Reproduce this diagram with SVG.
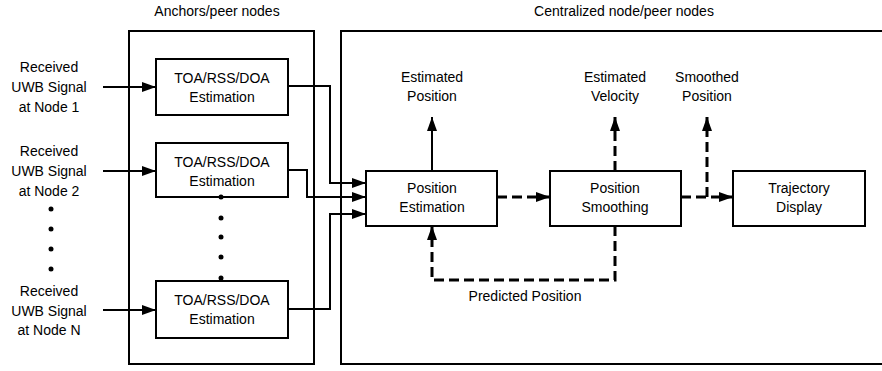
<svg xmlns="http://www.w3.org/2000/svg" width="882" height="371" viewBox="0 0 882 371">
<defs>
<style>
text{font-family:"Liberation Sans",Arial,sans-serif;font-size:14px;fill:#000;text-anchor:middle}
.box{fill:#fff;stroke:#000;stroke-width:2}
.frame{fill:none;stroke:#000;stroke-width:2}
.c{fill:none;stroke:#000;stroke-width:2}
.d{fill:none;stroke:#000;stroke-width:3;stroke-dasharray:10 5}
</style>
<marker id="ah" viewBox="0 0 14 10" refX="14" refY="5" markerWidth="14" markerHeight="10" markerUnits="userSpaceOnUse" orient="auto">
<path d="M0,0 L14,5 L0,10 Z" fill="#000"/>
</marker>
</defs>
<rect width="882" height="371" fill="#fff"/>
<g id="anchors">
<rect class="frame" x="129" y="31" width="185" height="333"/>
<text x="217" y="16">Anchors/peer nodes</text>
</g>
<g id="central">
<rect class="frame" x="341" y="31" width="545" height="333"/>
<text x="624" y="16">Centralized node/peer nodes</text>
</g>
<g id="connectors">
<path class="c" d="M103,87 H156" marker-end="url(#ah)"/>
<path class="c" d="M103,171 H156" marker-end="url(#ah)"/>
<path class="c" d="M103,310 H156" marker-end="url(#ah)"/>
<path class="c" d="M288,86 H330 V183 H366" marker-end="url(#ah)"/>
<path class="c" d="M288,170 H307 V197 H366" marker-end="url(#ah)"/>
<path class="c" d="M288,309 H330 V214 H366" marker-end="url(#ah)"/>
<path class="c" d="M432,171 V117" marker-end="url(#ah)"/>
<path class="d" d="M497,197 H550" marker-end="url(#ah)"/>
<path class="d" d="M681,197 H733" marker-end="url(#ah)"/>
<path class="d" d="M615,171 V117" marker-end="url(#ah)"/>
<path class="d" d="M707,197 V117" marker-end="url(#ah)"/>
<path class="d" d="M615,226 V280 H432 V226" marker-end="url(#ah)"/>
</g>
<g id="dots" fill="#000">
<circle cx="51" cy="209" r="2.5"/>
<circle cx="51" cy="229" r="2.5"/>
<circle cx="51" cy="249" r="2.5"/>
<circle cx="51" cy="269" r="2.5"/>
</g>
<g id="rx1">
<text x="49" y="72">Received</text>
<text x="49" y="92">UWB Signal</text>
<text x="49" y="112">at Node 1</text>
</g>
<g id="rx2">
<text x="49" y="156">Received</text>
<text x="49" y="176">UWB Signal</text>
<text x="49" y="196">at Node 2</text>
</g>
<g id="rxN">
<text x="49" y="296">Received</text>
<text x="49" y="316">UWB Signal</text>
<text x="49" y="335">at Node N</text>
</g>
<g id="toa1">
<rect class="box" x="156" y="59" width="132" height="56"/>
<text x="222" y="83">TOA/RSS/DOA</text>
<text x="222" y="102">Estimation</text>
</g>
<g id="toa2">
<rect class="box" x="156" y="143" width="132" height="54"/>
<text x="222" y="167">TOA/RSS/DOA</text>
<text x="222" y="186">Estimation</text>
</g>
<g id="toaN">
<rect class="box" x="156" y="281" width="132" height="57"/>
<text x="222" y="305">TOA/RSS/DOA</text>
<text x="222" y="324">Estimation</text>
</g>
<g id="vdots" fill="#000">
<circle cx="221" cy="197" r="2.5"/>
<circle cx="221" cy="218" r="2.5"/>
<circle cx="221" cy="237" r="2.5"/>
<circle cx="221" cy="257" r="2.5"/>
<circle cx="221" cy="278" r="2.5"/>
</g>
<g id="pe">
<rect class="box" x="366" y="171" width="131" height="55"/>
<text x="432" y="193">Position</text>
<text x="432" y="212">Estimation</text>
</g>
<g id="ps">
<rect class="box" x="550" y="171" width="131" height="55"/>
<text x="615" y="193">Position</text>
<text x="615" y="212">Smoothing</text>
</g>
<g id="td">
<rect class="box" x="733" y="171" width="132" height="55"/>
<text x="799" y="193">Trajectory</text>
<text x="799" y="212">Display</text>
</g>
<g id="labels">
<text x="432" y="82">Estimated</text>
<text x="432" y="101">Position</text>
<text x="615" y="82">Estimated</text>
<text x="615" y="101">Velocity</text>
<text x="707" y="82">Smoothed</text>
<text x="707" y="101">Position</text>
<text x="525" y="301">Predicted Position</text>
</g>
</svg>
